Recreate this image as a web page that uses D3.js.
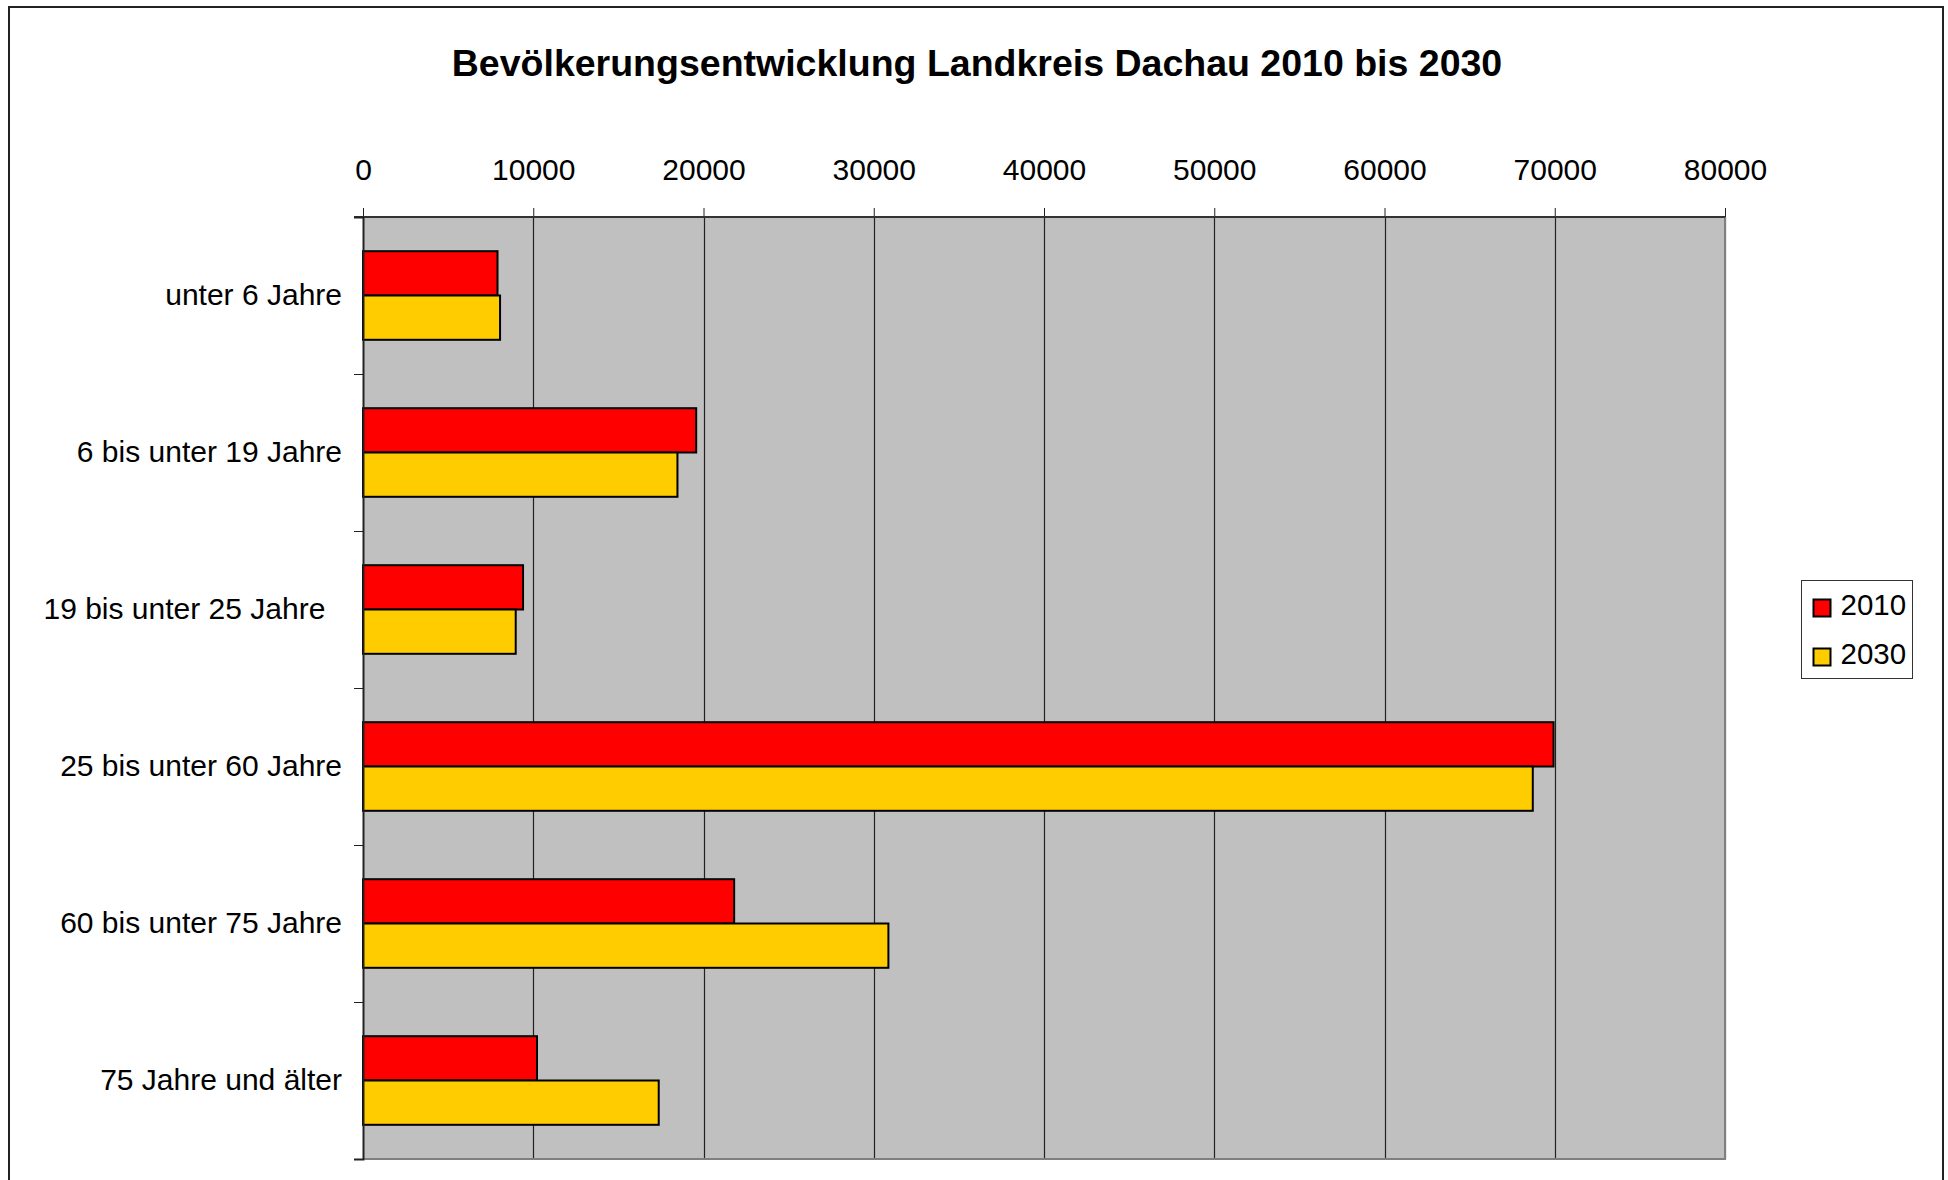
<!DOCTYPE html>
<html>
<head>
<meta charset="utf-8">
<script src="https://cdn.jsdelivr.net/npm/d3@7"></script>
<style>
  body { margin: 0; background: #fff; }
  text { font-family: "Liberation Sans", Arial, sans-serif; fill: #000; }
</style>
</head>
<body>
<script>
// data
var categories = [ "unter 6 Jahre",
                   "6 bis unter 19 Jahre",
                   "19 bis unter 25 Jahre  ",
                   "25 bis unter 60 Jahre",
                   "60 bis unter 75 Jahre",
                   "75 Jahre und älter" ];
var years = [ "2010", "2030" ];
var values2010 = [ 7900, 19570, 9400, 69930, 21800, 10220 ];
var values2030 = [ 8050, 18470, 8970, 68710, 30860, 17370 ];
var xTicks = [ 0, 10000, 20000, 30000, 40000, 50000, 60000, 70000, 80000 ];

var colors = { "2010": "#ff0000", "2030": "#ffcc00" };

var width = 1948, height = 1180;
var plot = { left: 363, right: 1725, top: 217, bottom: 1159 };

var rows = categories.map(function(c, i) {
  return { cat: c, vals: [ { year: "2010", v: values2010[i] }, { year: "2030", v: values2030[i] } ] };
});

var svg = d3.select("body")
  .append("svg")
  .attr("width", width)
  .attr("height", height);

// outer frame
svg.append("rect")
  .attr("x", 9).attr("y", 7)
  .attr("width", 1934).attr("height", 1200)
  .style("fill", "none")
  .style("stroke", "#222")
  .style("stroke-width", 2);

// title
svg.append("text")
  .attr("x", 977)
  .attr("y", 76)
  .attr("text-anchor", "middle")
  .style("font-size", "37.5px")
  .style("font-weight", "bold")
  .text("Bevölkerungsentwicklung Landkreis Dachau 2010 bis 2030");

// scales
var x = d3.scaleLinear()
  .domain([0, 80000])
  .range([plot.left, plot.right]);

var y = d3.scaleBand()
  .domain(categories)
  .range([plot.top, plot.bottom])
  .paddingInner(0.4357)
  .paddingOuter(0.4357 / 2);

var ySub = d3.scaleBand()
  .domain(years)
  .range([0, y.bandwidth()]);

var yIdx = d3.scaleLinear()
  .domain([0, categories.length])
  .range([plot.top, plot.bottom]);

// plot background
svg.append("rect")
  .attr("x", plot.left).attr("y", plot.top)
  .attr("width", plot.right - plot.left)
  .attr("height", plot.bottom - plot.top)
  .style("fill", "#c0c0c0");

// gridlines
svg.append("g")
  .selectAll("line")
  .data(xTicks.slice(1))
  .enter()
  .append("line")
  .attr("x1", d => Math.round(x(d)) + 0.5)
  .attr("x2", d => Math.round(x(d)) + 0.5)
  .attr("y1", plot.top)
  .attr("y2", plot.bottom)
  .style("stroke", "#222")
  .style("stroke-width", 1.2);

// plot border bottom / right
svg.append("path")
  .attr("d", `M${plot.left},${plot.bottom} H${plot.right} V${plot.top}`)
  .style("fill", "none")
  .style("stroke", "#808080")
  .style("stroke-width", 2);

// bars
var groups = svg.append("g")
  .selectAll("g")
  .data(rows)
  .enter()
  .append("g")
  .attr("transform", d => `translate(0,${y(d.cat)})`);

groups.selectAll("rect")
  .data(d => d.vals)
  .enter()
  .append("rect")
  .attr("x", x(0))
  .attr("y", d => ySub(d.year))
  .attr("width", d => x(d.v) - x(0))
  .attr("height", ySub.bandwidth())
  .style("fill", d => colors[d.year])
  .style("stroke", "#000")
  .style("stroke-width", 2);

// top value axis
var xAxis = svg.append("g")
  .attr("transform", `translate(0,${plot.top})`)
  .call(d3.axisTop(x)
    .tickValues(xTicks)
    .tickSize(9)
    .tickPadding(28)
    .tickFormat(d3.format("d")));
xAxis.select(".domain").remove();
xAxis.selectAll("line").style("stroke", "#222");
xAxis.selectAll("text")
  .style("font-size", "30px")
  .attr("font-family", null);

svg.append("line")
  .attr("x1", plot.left - 9).attr("x2", plot.right)
  .attr("y1", plot.top).attr("y2", plot.top)
  .style("stroke", "#333")
  .style("stroke-width", 2);

// left category axis: ticks at band edges
var yTicks = svg.append("g")
  .attr("transform", `translate(${plot.left},0)`)
  .call(d3.axisLeft(yIdx)
    .ticks(categories.length)
    .tickSize(9)
    .tickFormat(""));
yTicks.select(".domain")
  .style("stroke", "#222")
  .style("stroke-width", 2);
yTicks.selectAll("line").style("stroke", "#222");

var yLabels = svg.append("g")
  .attr("transform", `translate(${plot.left},0)`)
  .call(d3.axisLeft(y)
    .tickSize(0)
    .tickPadding(21));
yLabels.select(".domain").remove();
yLabels.selectAll("text")
  .style("font-size", "30px")
  .style("white-space", "pre")
  .attr("font-family", null);

// legend
var legend = svg.append("g")
  .attr("transform", "translate(1801.5,580.5)");

legend.append("rect")
  .attr("width", 111)
  .attr("height", 98)
  .style("fill", "#fff")
  .style("stroke", "#333")
  .style("stroke-width", 1);

var legendItem = legend.selectAll("g")
  .data(years)
  .enter()
  .append("g")
  .attr("transform", (d, i) => `translate(0,${i * 49})`);

legendItem.append("rect")
  .attr("x", 12)
  .attr("y", 19)
  .attr("width", 17)
  .attr("height", 17)
  .style("fill", d => colors[d])
  .style("stroke", "#000")
  .style("stroke-width", 2);

legendItem.append("text")
  .attr("x", 39)
  .attr("y", 34)
  .style("font-size", "29.5px")
  .text(d => d);
</script>
</body>
</html>
